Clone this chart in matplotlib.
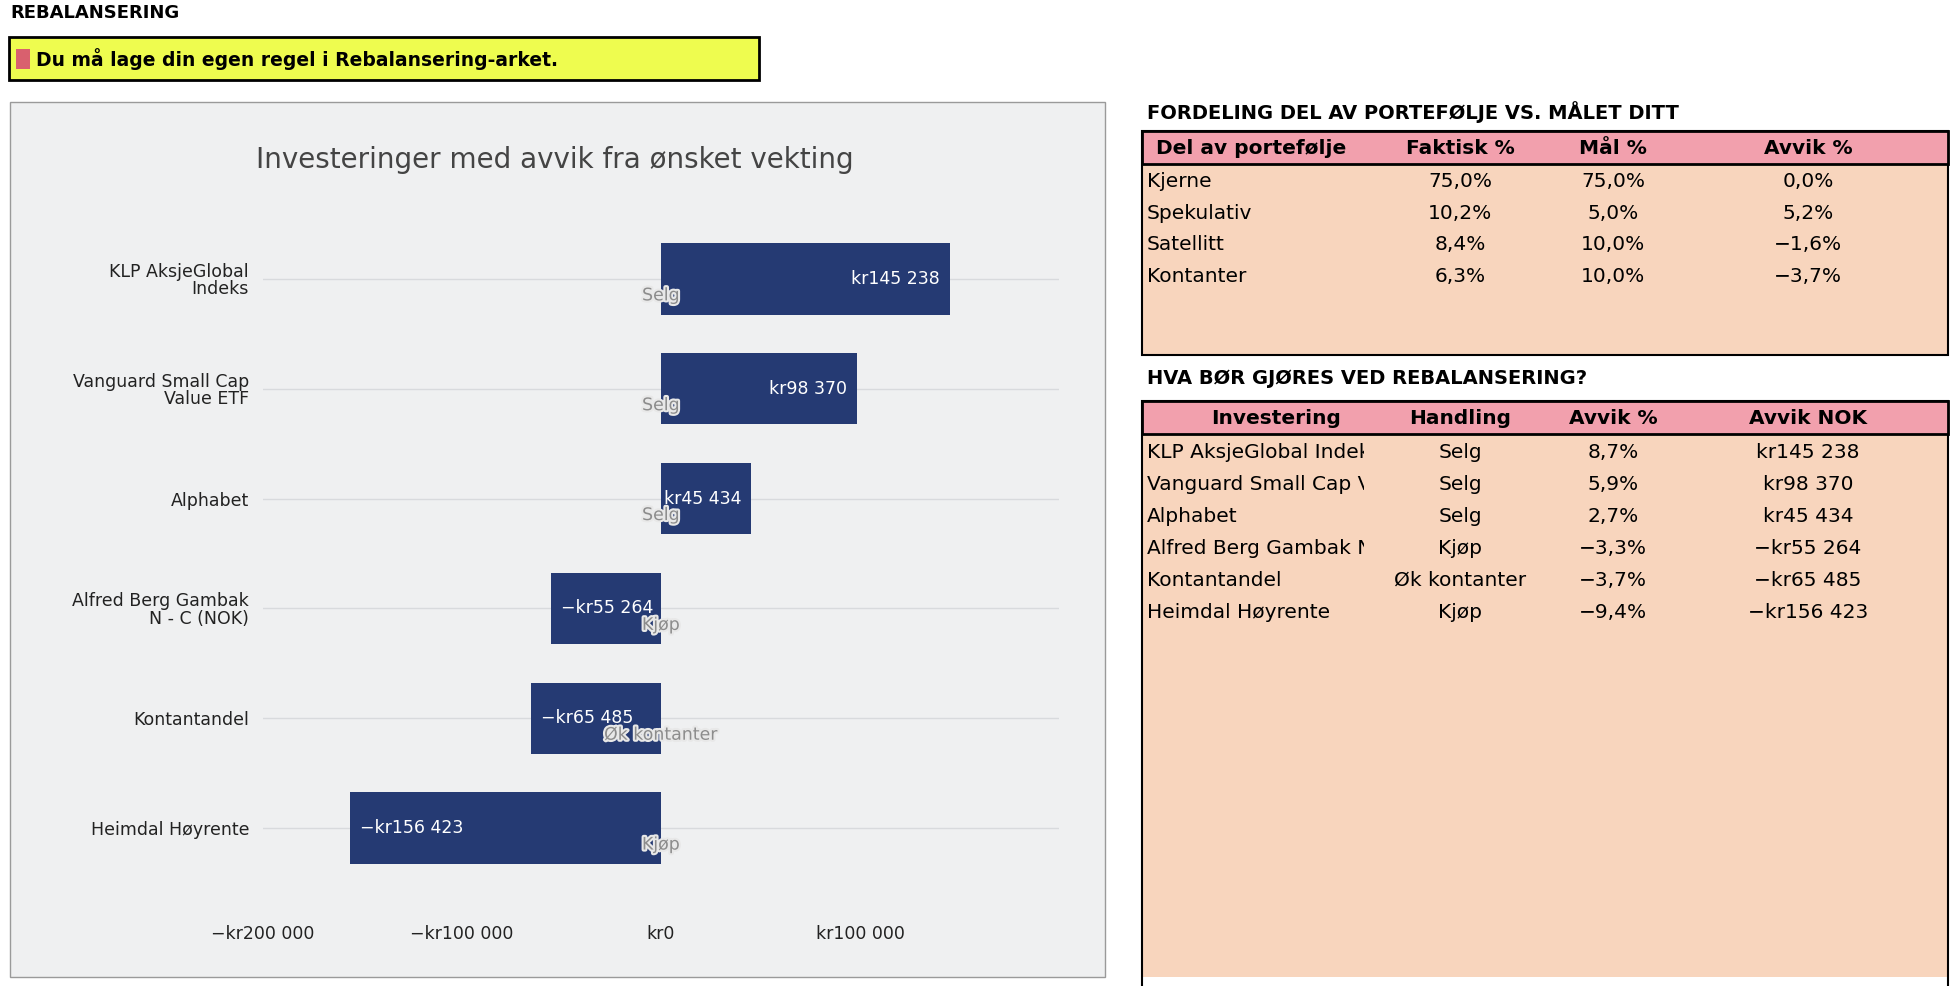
import matplotlib.pyplot as plt
import matplotlib.patheffects as pe
from matplotlib.patches import Rectangle

W, H = 1952, 986

investeringer = ["KLP AksjeGlobal\nIndeks", "Vanguard Small Cap\nValue ETF", "Alphabet",
                 "Alfred Berg Gambak\nN - C (NOK)", "Kontantandel", "Heimdal Høyrente"]
avvik_nok = [145238, 98370, 45434, -55264, -65485, -156423]
handling = ["Selg", "Selg", "Selg", "Kjøp", "Øk kontanter", "Kjøp"]

del_navn = ["Kjerne", "Spekulativ", "Satellitt", "Kontanter"]
faktisk = ["75,0%", "10,2%", "8,4%", "6,3%"]
maal = ["75,0%", "5,0%", "10,0%", "10,0%"]
avvik_del = ["0,0%", "5,2%", "\u22121,6%", "\u22123,7%"]

tab_inv = ["KLP AksjeGlobal Indeks", "Vanguard Small Cap Value ETF", "Alphabet",
           "Alfred Berg Gambak N - C (NOK)", "Kontantandel", "Heimdal Høyrente"]
tab_avvik_pct = ["8,7%", "5,9%", "2,7%", "\u22123,3%", "\u22123,7%", "\u22129,4%"]


def kr(v):
    s = f"{abs(v):,.0f}".replace(",", " ")
    return ("\u2212" if v < 0 else "") + "kr" + s


def fx(x):
    return x / W


def fy(y):
    return 1 - y / H


def rect(x0, y0, x1, y1, z=1, **kw):
    r = Rectangle((fx(x0), fy(y1)), fx(x1) - fx(x0), fy(y0) - fy(y1),
                  transform=fig.transFigure, zorder=z, **kw)
    fig.add_artist(r)
    return r


plt.rcParams['font.family'] = ['DejaVu Sans']
fig = plt.figure(figsize=(W / 100, H / 100), dpi=100)

# header
fig.text(fx(10), fy(13), "REBALANSERING", fontsize=13, fontweight="bold", va="center")
rect(9, 37, 759, 80, facecolor="#eefc4f", edgecolor="black", linewidth=2)
rect(16, 49, 30, 69, facecolor="#d9606e", edgecolor="none")
fig.text(fx(36), fy(59), "Du må lage din egen regel i Rebalansering-arket.",
         fontsize=13.5, fontweight="bold", va="center")

# chart panel
rect(10, 102, 1105, 977, z=-1, facecolor="#eff0f1", edgecolor="#9a9a9a", linewidth=1)
fig.text(fx(555), fy(160), "Investeringer med avvik fra ønsket vekting",
         fontsize=20, color="#444444", ha="center", va="center")

ax = fig.add_axes([fx(263), fy(883), fx(1059) - fx(263), fy(224) - fy(883)])
ax.set_facecolor("none")
ypos = list(range(len(investeringer)))
ax.barh(ypos, avvik_nok, height=0.65, color="#253a73", zorder=3)
ax.set_xlim(-200000, 200000)
ax.set_ylim(len(investeringer) - 0.5, -0.5)
ax.set_yticks(ypos)
ax.set_yticklabels(investeringer, fontsize=12.5, color="#222222", linespacing=0.95)
ax.set_xticks([-200000, -100000, 0, 100000])
ax.set_xticklabels([kr(v) for v in [-200000, -100000, 0, 100000]], fontsize=12.5, color="#222222")
ax.tick_params(length=0, pad=10)
ax.tick_params(axis="x", pad=30)
ax.grid(axis="y", color="#d8dadd", linewidth=1, zorder=0)
for s in ax.spines.values():
    s.set_visible(False)
for y, v, h in zip(ypos, avvik_nok, handling):
    if v >= 0:
        ax.text(v - 5000, y, kr(v), color="white", fontsize=12.5, ha="right", va="center", zorder=4)
    else:
        ax.text(v + 5000, y, kr(v), color="white", fontsize=12.5, ha="left", va="center", zorder=4)
    ax.text(0, y + 0.15, h, color="#8c8c8c", fontsize=12.5, ha="center", va="center", zorder=5,
            path_effects=[pe.withStroke(linewidth=3, foreground="#e8e8e8")])

# tables
colx = [1460, 1613, 1808]
pink, peach = "#f2a0ad", "#f8d5bd"
fs = 14.5

fig.text(fx(1147), fy(112), "FORDELING DEL AV PORTEFØLJE VS. MÅLET DITT",
         fontsize=14, fontweight="bold", va="center")
rect(1142, 131, 1948, 355, facecolor=peach, edgecolor="none")
rect(1142, 131, 1948, 355, facecolor="none", edgecolor="black", linewidth=1.5)
rect(1142, 131, 1948, 164, facecolor=pink, edgecolor="black", linewidth=2)
for x, t in zip([1251] + colx, ["Del av portefølje", "Faktisk %", "Mål %", "Avvik %"]):
    fig.text(fx(x), fy(148), t, fontsize=fs, fontweight="bold", ha="center", va="center")
for i, y in enumerate([181, 213, 244, 276]):
    fig.text(fx(1147), fy(y), del_navn[i], fontsize=fs, va="center")
    for x, t in zip(colx, [faktisk[i], maal[i], avvik_del[i]]):
        fig.text(fx(x), fy(y), t, fontsize=fs, ha="center", va="center")

fig.text(fx(1147), fy(378), "HVA BØR GJØRES VED REBALANSERING?",
         fontsize=14, fontweight="bold", va="center")
rect(1142, 401, 1948, 977, facecolor=peach, edgecolor="none")
rect(1142, 401, 1948, 990, facecolor="none", edgecolor="black", linewidth=1.5)
rect(1142, 401, 1948, 434, facecolor=pink, edgecolor="black", linewidth=2)
for x, t in zip([1276] + colx, ["Investering", "Handling", "Avvik %", "Avvik NOK"]):
    fig.text(fx(x), fy(418), t, fontsize=fs, fontweight="bold", ha="center", va="center")
clip = Rectangle((fx(1142), fy(977)), fx(1364) - fx(1142), fy(401) - fy(977),
                 transform=fig.transFigure, visible=False)
fig.add_artist(clip)
for i, y in enumerate([452, 484, 516, 548, 580, 612]):
    t = fig.text(fx(1147), fy(y), tab_inv[i], fontsize=fs, va="center")
    t.set_clip_path(clip)
    for x, s in zip(colx, [handling[i], tab_avvik_pct[i], kr(avvik_nok[i])]):
        fig.text(fx(x), fy(y), s, fontsize=fs, ha="center", va="center")

fig.savefig("out.png", dpi=100)
